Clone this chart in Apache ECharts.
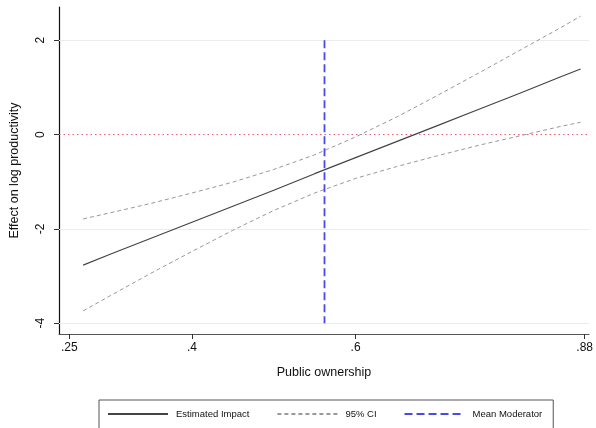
<!DOCTYPE html>
<html>
<head>
<meta charset="utf-8">
<script src="https://cdn.jsdelivr.net/npm/echarts@6/dist/echarts.min.js"></script>
<style>
  html, body { margin: 0; padding: 0; background: #fff; }
  #chart { width: 596px; height: 428px; }
</style>
</head>
<body>
<div id="chart"></div>
<script>
// moderator values (public ownership) along the fitted line
const xs = [0.267, 0.30, 0.35, 0.40, 0.45, 0.50, 0.55, 0.60, 0.65, 0.70, 0.75, 0.80, 0.85, 0.875];
// marginal effect on log productivity
const estimate = [-2.77, -2.54, -2.20, -1.86, -1.52, -1.18, -0.83, -0.49, -0.15, 0.19, 0.53, 0.87, 1.22, 1.39];
// 95% confidence bounds
const ciUpper = [-1.79, -1.66, -1.46, -1.24, -1.01, -0.74, -0.43, -0.05, 0.37, 0.83, 1.30, 1.78, 2.26, 2.51];
const ciLower = [-3.74, -3.42, -2.94, -2.48, -2.03, -1.61, -1.24, -0.93, -0.68, -0.45, -0.23, -0.03, 0.17, 0.26];
// mean of the moderator, drawn as a vertical line
const meanModerator = 0.562;
const meanSpan = [2, -4];

const xTicks = [0.25, 0.4, 0.6, 0.88];
const yTicks = [-4, -2, 0, 2];
const gridYs = [2, -2, -4];

const font = 'Liberation Sans, Arial, Helvetica, sans-serif';
const pair = (arr) => xs.map((x, i) => [x, arr[i]]);

const chart = echarts.init(document.getElementById('chart'), null, { renderer: 'canvas' });

const option = {
    animation: false,
    backgroundColor: '#fff',
    textStyle: { fontFamily: font },
    grid: { left: 55, right: 5, top: 7, bottom: 94, containLabel: false },
    legend: {
        data: ['Estimated Impact', '95% CI', 'Mean Moderator'],
        left: 99,
        top: 400,
        orient: 'horizontal',
        itemWidth: 60,
        itemHeight: 10,
        itemGap: 27,
        padding: [9, 11, 12, 8],
        borderColor: '#555',
        borderWidth: 1,
        itemStyle: { opacity: 0 },
        textStyle: { fontSize: 9.5, color: '#111', fontFamily: font, padding: [0, 0, 0, 3] }
    },
    xAxis: {
        type: 'value',
        min: 0.2375,
        max: 0.8853,
        name: 'Public ownership',
        nameLocation: 'middle',
        nameGap: 32,
        nameTextStyle: { fontSize: 12.5, color: '#111', fontFamily: font },
        axisLine: { show: true, onZero: false, lineStyle: { color: '#555', width: 1.2 } },
        axisTick: { show: true, length: 5, customValues: xTicks, lineStyle: { color: '#333' } },
        axisLabel: {
            customValues: xTicks,
            fontSize: 12, color: '#111', margin: 8, fontFamily: font,
            formatter: (v) => String(v).replace(/^0/, '')
        },
        splitLine: { show: false }
    },
    yAxis: {
        type: 'value',
        min: -4.23,
        max: 2.705,
        name: 'Effect on log productivity',
        nameLocation: 'middle',
        nameGap: 38,
        nameRotate: 90,
        nameTextStyle: { fontSize: 12.5, color: '#111', fontFamily: font },
        axisLine: { show: true, onZero: false, lineStyle: { color: '#111', width: 1.2 } },
        axisTick: { show: true, length: 5, customValues: yTicks, lineStyle: { color: '#333' } },
        axisLabel: {
            customValues: yTicks,
            rotate: 90, fontSize: 12, color: '#111', margin: 12, fontFamily: font
        },
        splitLine: { show: false }
    },
    series: [
        {
            name: 'Estimated Impact',
            type: 'line',
            data: pair(estimate),
            symbol: 'none',
            z: 4,
            lineStyle: { color: '#444', width: 1.2 },
            itemStyle: { color: '#444' },
            markLine: {
                silent: true,
                symbol: 'none',
                label: { show: false },
                z: 1,
                data: gridYs.map(y => ({ yAxis: y, lineStyle: { color: '#ececec', width: 1, type: 'solid' } }))
                    .concat([{ yAxis: 0, lineStyle: { color: '#e0607a', width: 1.2, type: [1.5, 3] } }])
            }
        },
        {
            name: '95% CI',
            type: 'line',
            data: pair(ciUpper),
            symbol: 'none',
            z: 3,
            lineStyle: { color: '#999', width: 1, type: [4, 3] },
            itemStyle: { color: '#999' }
        },
        {
            name: '95% CI',
            type: 'line',
            data: pair(ciLower),
            symbol: 'none',
            z: 3,
            lineStyle: { color: '#999', width: 1, type: [4, 3] },
            itemStyle: { color: '#999' }
        },
        {
            name: 'Mean Moderator',
            type: 'line',
            data: meanSpan.map(y => [meanModerator, y]),
            symbol: 'none',
            z: 5,
            lineStyle: { color: '#4a4ae8', width: 1.8, type: [8, 4] },
            itemStyle: { color: '#4a4ae8' }
        }
    ]
};

chart.setOption(option);
</script>
</body>
</html>
